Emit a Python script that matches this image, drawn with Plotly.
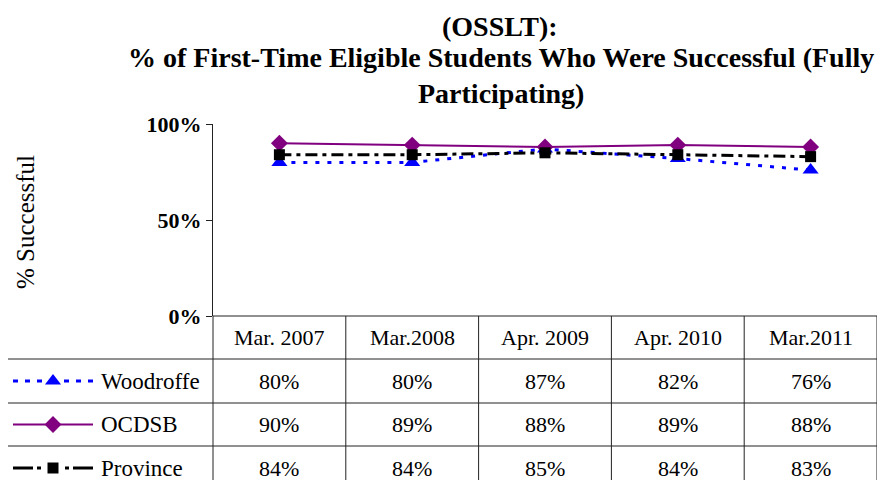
import plotly.graph_objects as go

# ---------------- data ----------------
categories = ["Mar. 2007", "Mar.2008", "Apr. 2009", "Apr. 2010", "Mar.2011"]
woodroffe = [80, 80, 87, 82, 76]
ocdsb = [90, 89, 88, 89, 88]
province = [84, 84, 85, 84, 83]
series_names = ["Woodroffe", "OCDSB", "Province"]
y_ticks = [0, 50, 100]

title_lines = ["(OSSLT):",
               "% of First-Time Eligible Students Who Were Successful (Fully",
               "Participating)"]
y_title = "% Successful"

# ---------------- layout geometry (window pixels) ----------------
OFF = 8                      # default page body margin
W, H = 885 - OFF, 480 - OFF
PL, PR, PT, PB = 213, 877, 124, 316          # plot area
ROWS = [316, 359, 403, 446, 490]              # table row boundaries
TABLE_LEFT = 5
FONT = "Liberation Serif, Times New Roman, serif"

def px(x):
    return (x - OFF) / W

def py(y):
    return 1 - (y - OFF) / H

series = [woodroffe, ocdsb, province]
styles = [
    dict(color="#0000FF", dash="4px,8px", kdash="5px,7px", width=3,
         symbol="triangle-up", msize=14),
    dict(color="#800080", dash="solid", kdash="solid", width=2,
         symbol="diamond", msize=13),
    dict(color="#000000", dash="12px,5px,4px,5px", kdash="20px,4px,4px,6px", width=3,
         symbol="square", msize=11),
]

fig = go.Figure()
xs = list(range(len(categories)))
for i in range(3):
    st = styles[i]
    fig.add_trace(go.Scatter(
        x=xs, y=series[i], mode="lines+markers", name=series_names[i],
        line=dict(color=st["color"], dash=st["dash"], width=st["width"]),
        marker=dict(symbol=st["symbol"], size=st["msize"], color=st["color"]),
        showlegend=False, hoverinfo="skip", cliponaxis=False))

# legend keys inside the table (overlay axis in window pixels)
key_x0, key_xm, key_x1, key_half = 13, 53, 93, 7
for i in range(3):
    st = styles[i]
    yc = (ROWS[i + 1] + ROWS[i + 2]) / 2
    fig.add_trace(go.Scatter(
        x=[key_x0, key_xm - key_half, None, key_x1, key_xm + key_half],
        y=[yc, yc, None, yc, yc], mode="lines", xaxis="x2", yaxis="y2",
        line=dict(color=st["color"], dash=st["kdash"], width=st["width"]),
        showlegend=False, hoverinfo="skip"))
    fig.add_trace(go.Scatter(
        x=[key_xm], y=[yc], mode="markers", xaxis="x2", yaxis="y2",
        marker=dict(symbol=st["symbol"], size=st["msize"], color=st["color"]),
        showlegend=False, hoverinfo="skip"))

shapes = []
line_style = dict(color="#222222", width=1)
colw = (PR - PL) / len(categories)
col_edges = [PL + k * colw for k in range(len(categories) + 1)]
shapes.append(dict(type="line", xref="paper", yref="paper",
                   x0=px(PL), x1=px(PR), y0=py(ROWS[0]), y1=py(ROWS[0]), line=line_style))
for r in ROWS[1:-1]:
    shapes.append(dict(type="line", xref="paper", yref="paper",
                       x0=px(TABLE_LEFT), x1=px(PR), y0=py(r), y1=py(r), line=line_style))
for cx in col_edges:
    shapes.append(dict(type="line", xref="paper", yref="paper",
                       x0=px(cx), x1=px(cx), y0=py(ROWS[0]), y1=py(ROWS[-1]), line=line_style))
shapes.append(dict(type="line", xref="paper", yref="paper",
                   x0=px(TABLE_LEFT), x1=px(TABLE_LEFT), y0=py(ROWS[1]), y1=py(ROWS[-1]),
                   line=line_style))

annotations = []
cell_font = dict(family=FONT, size=22, color="black")
for k, cat in enumerate(categories):
    cxm = (col_edges[k] + col_edges[k + 1]) / 2
    annotations.append(dict(xref="paper", yref="paper", x=px(cxm),
                            y=py((ROWS[0] + ROWS[1]) / 2), text=cat, showarrow=False,
                            font=cell_font, xanchor="center", yanchor="middle"))
    for i in range(3):
        annotations.append(dict(xref="paper", yref="paper", x=px(cxm),
                                y=py((ROWS[i + 1] + ROWS[i + 2]) / 2),
                                text=f"{series[i][k]}%", showarrow=False,
                                font=cell_font, xanchor="center", yanchor="middle"))
for i in range(3):
    annotations.append(dict(xref="paper", yref="paper", x=px(99),
                            y=py((ROWS[i + 1] + ROWS[i + 2]) / 2),
                            text=series_names[i], showarrow=False,
                            font=dict(family=FONT, size=23, color="black"),
                            xanchor="left", yanchor="middle"))

# title, one annotation per line
title_font = dict(family=FONT, size=28, color="black")
annotations.append(dict(xref="paper", yref="paper", x=px(500), y=py(OFF + 1),
                        text=f"<b>{title_lines[0]}</b>", showarrow=False,
                        xanchor="center", yanchor="top", font=title_font))
for t, yc in zip(title_lines[1:], [58, 94]):
    annotations.append(dict(xref="paper", yref="paper", x=px(501), y=py(yc),
                            text=f"<b>{t}</b>", showarrow=False,
                            xanchor="center", yanchor="middle", font=title_font))
annotations.append(dict(xref="paper", yref="paper", x=px(25), y=py(222),
                        text=y_title, textangle=-90, showarrow=False,
                        xanchor="center", yanchor="middle",
                        font=dict(family=FONT, size=25, color="black")))

fig.update_layout(
    width=W, height=H, margin=dict(l=0, r=0, t=0, b=0, autoexpand=False),
    paper_bgcolor="white", plot_bgcolor="rgba(0,0,0,0)",
    font=dict(family=FONT),
    xaxis=dict(domain=[px(PL), px(PR)], range=[-0.5, len(categories) - 0.5],
               showgrid=False, zeroline=False, showticklabels=False,
               showline=False, ticks="", automargin=False),
    yaxis=dict(domain=[py(PB), py(PT)], range=[0, 100], tickmode="array",
               tickvals=y_ticks, ticktext=[f"{v}%" for v in y_ticks],
               showgrid=False, zeroline=False, automargin=False,
               showline=True, linecolor="#222222", linewidth=1,
               ticks="outside", ticklen=6, tickcolor="#222222",
               tickfont=dict(family=FONT, size=22, color="black", weight="bold")),
    xaxis2=dict(domain=[0, 1], range=[OFF, OFF + W], visible=False, anchor="y2",
                fixedrange=True, automargin=False),
    yaxis2=dict(domain=[0, 1], range=[OFF + H, OFF], visible=False, anchor="x2",
                fixedrange=True, automargin=False),
    shapes=shapes, annotations=annotations, showlegend=False,
)

fig.write_html("out.html")
